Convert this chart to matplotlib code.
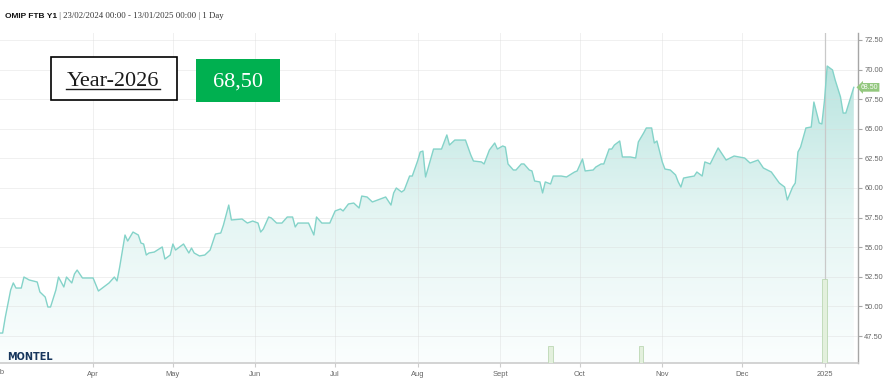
import numpy as np
import pandas as pd
import matplotlib
matplotlib.use('Agg')
import matplotlib.pyplot as plt
import matplotlib.dates as mdates
from matplotlib.patches import Rectangle, PathPatch
from matplotlib.path import Path
from matplotlib.colors import LinearSegmentedColormap
from matplotlib.lines import Line2D

# OMIP FTB Y1 daily settlement (EUR/MWh)
dates = [
    '2024-02-26', '2024-02-27', '2024-02-28', '2024-03-01', '2024-03-02', '2024-03-03',
    '2024-03-05', '2024-03-06', '2024-03-08', '2024-03-11', '2024-03-12', '2024-03-14',
    '2024-03-15', '2024-03-16', '2024-03-18', '2024-03-19', '2024-03-21', '2024-03-22',
    '2024-03-24', '2024-03-25', '2024-03-26', '2024-03-28', '2024-04-01', '2024-04-03',
    '2024-04-05', '2024-04-07', '2024-04-09', '2024-04-10', '2024-04-11', '2024-04-13',
    '2024-04-14', '2024-04-16', '2024-04-18', '2024-04-19', '2024-04-20', '2024-04-21',
    '2024-04-22', '2024-04-24', '2024-04-27', '2024-04-28', '2024-04-30', '2024-05-01',
    '2024-05-02', '2024-05-05', '2024-05-07', '2024-05-08', '2024-05-09', '2024-05-11',
    '2024-05-13', '2024-05-15', '2024-05-17', '2024-05-19', '2024-05-20', '2024-05-22',
    '2024-05-23', '2024-05-27', '2024-05-29', '2024-05-31', '2024-06-02', '2024-06-03',
    '2024-06-04', '2024-06-06', '2024-06-07', '2024-06-09', '2024-06-11', '2024-06-13',
    '2024-06-15', '2024-06-16', '2024-06-17', '2024-06-21', '2024-06-23', '2024-06-24',
    '2024-06-26', '2024-06-29', '2024-07-01', '2024-07-03', '2024-07-04', '2024-07-06',
    '2024-07-08', '2024-07-10', '2024-07-11', '2024-07-13', '2024-07-15', '2024-07-17',
    '2024-07-20', '2024-07-22', '2024-07-23', '2024-07-24', '2024-07-26', '2024-07-27',
    '2024-07-29', '2024-07-30', '2024-08-01', '2024-08-02', '2024-08-03', '2024-08-04',
    '2024-08-07', '2024-08-10', '2024-08-12', '2024-08-13', '2024-08-15', '2024-08-19',
    '2024-08-21', '2024-08-22', '2024-08-25', '2024-08-26', '2024-08-28', '2024-08-30',
    '2024-08-31', '2024-09-02', '2024-09-03', '2024-09-04', '2024-09-06', '2024-09-07',
    '2024-09-09', '2024-09-10', '2024-09-12', '2024-09-13', '2024-09-14', '2024-09-16',
    '2024-09-17', '2024-09-18', '2024-09-20', '2024-09-21', '2024-09-24', '2024-09-26',
    '2024-09-29', '2024-09-30', '2024-10-02', '2024-10-03', '2024-10-06', '2024-10-07',
    '2024-10-09', '2024-10-10', '2024-10-12', '2024-10-13', '2024-10-14', '2024-10-16',
    '2024-10-17', '2024-10-20', '2024-10-22', '2024-10-23', '2024-10-25', '2024-10-26',
    '2024-10-28', '2024-10-29', '2024-10-30', '2024-11-01', '2024-11-02', '2024-11-04',
    '2024-11-06', '2024-11-07', '2024-11-08', '2024-11-09', '2024-11-11', '2024-11-13',
    '2024-11-14', '2024-11-16', '2024-11-17', '2024-11-19', '2024-11-22', '2024-11-25',
    '2024-11-28', '2024-12-02', '2024-12-04', '2024-12-07', '2024-12-09', '2024-12-12',
    '2024-12-15', '2024-12-17', '2024-12-18', '2024-12-20', '2024-12-21', '2024-12-22',
    '2024-12-23', '2024-12-25', '2024-12-27', '2024-12-28', '2024-12-30', '2024-12-31',
    '2025-01-01', '2025-01-02', '2025-01-04', '2025-01-05', '2025-01-07', '2025-01-08',
    '2025-01-09', '2025-01-12',
]
prices = [
    47.75, 47.75, 49.10, 51.38, 51.98, 51.55,
    51.55, 52.48, 52.23, 52.06, 51.22, 50.79,
    49.95, 49.95, 51.38, 52.48, 51.64, 52.48,
    51.98, 52.74, 53.07, 52.40, 52.40, 51.30,
    51.64, 51.98, 52.48, 52.15, 53.33, 56.03,
    55.52, 56.28, 56.03, 55.35, 55.27, 54.34,
    54.51, 54.59, 55.02, 54.00, 54.34, 55.27,
    54.76, 55.27, 54.51, 54.93, 54.51, 54.26,
    54.34, 54.76, 56.11, 56.20, 56.87, 58.56,
    57.30, 57.38, 57.04, 57.21, 57.04, 56.28,
    56.54, 57.55, 57.47, 57.04, 57.04, 57.55,
    57.55, 56.71, 57.04, 57.04, 56.03, 57.55,
    57.04, 57.04, 58.06, 58.23, 58.06, 58.65,
    58.73, 58.31, 59.32, 59.24, 58.82, 58.99,
    59.24, 58.56, 59.58, 60.00, 59.66, 59.83,
    61.01, 61.01, 62.28, 63.04, 63.12, 60.93,
    63.29, 63.29, 64.48, 63.63, 64.05, 64.05,
    62.79, 62.28, 62.20, 62.03, 63.21, 63.80,
    63.29, 63.55, 63.46, 62.03, 61.52, 61.52,
    62.03, 62.03, 61.52, 61.44, 60.59, 60.51,
    59.58, 60.51, 60.34, 61.01, 61.01, 60.93,
    61.35, 61.44, 62.45, 61.44, 61.52, 61.77,
    62.03, 62.03, 63.29, 63.29, 63.63, 63.97,
    62.62, 62.62, 62.53, 63.89, 64.65, 65.07,
    65.07, 63.80, 63.97, 62.20, 61.60, 61.52,
    61.10, 60.51, 60.08, 60.84, 60.93, 61.01,
    61.35, 61.01, 62.20, 62.03, 63.38, 62.36,
    62.70, 62.53, 62.11, 62.36, 61.69, 61.35,
    60.42, 60.08, 58.99, 60.08, 60.42, 63.04,
    63.46, 65.07, 65.15, 67.26, 65.49, 65.41,
    67.43, 70.30, 69.97, 69.12, 67.69, 66.33,
    66.33, 68.50,
]

# traded volume bars at the bottom
vol_dates = ['2024-09-20', '2024-10-24', '2025-01-01']
volumes = [1, 1, 5]

month_ticks = ['2024-04-01', '2024-05-01', '2024-06-01', '2024-07-01', '2024-08-01',
               '2024-09-01', '2024-10-01', '2024-11-01', '2024-12-01', '2025-01-01']
month_labels = ['Apr', 'May', 'Jun', 'Jul', 'Aug', 'Sept', 'Oct', 'Nov', 'Dec', '2025']
y_ticks = [47.5, 50.0, 52.5, 55.0, 57.5, 60.0, 62.5, 65.0, 67.5, 70.0, 72.5]

title_bold = 'OMIP FTB Y1'
title_rest = '| 23/02/2024 00:00 - 13/01/2025 00:00 | 1 Day'
box_label = 'Year-2026'
last_label = '68,50'
last_price = 68.50

W, H = 885, 389


def fx(px):
    return px / W


def fy(py):
    return 1 - py / H


fig = plt.figure(figsize=(W / 100, H / 100), dpi=100)
ax = fig.add_axes([0, fy(363), fx(858), (363 - 33) / H])

x = mdates.date2num(pd.to_datetime(dates))
y = np.array(prices)
y_min, y_max = 45.22, 73.09
x_min = mdates.date2num(pd.Timestamp('2024-02-26'))
x_max = mdates.date2num(pd.Timestamp('2025-01-13 14:00'))

# volume on its own hidden scale (twinx first: it moves the main ticks to the left)
ax2 = ax.twinx()
ax2.bar(mdates.date2num(pd.to_datetime(vol_dates)), volumes, width=1.6,
        color='#e3f0dd', edgecolor='#bcd8b4', lw=0.6)
ax2.set_ylim(0, 19.7)
ax2.set_xlim(x_min, x_max)
ax2.set_axis_off()

# gradient area under the line
verts = [(x[0], y_min)] + list(zip(x, y)) + [(x[-1], y_min), (x[0], y_min)]
area = PathPatch(Path(verts, closed=True), facecolor='none', edgecolor='none')
ax.add_patch(area)
cmap = LinearSegmentedColormap.from_list('area', ['#fbfefe', '#e4f5f3', '#b8e4df'])
grad = np.linspace(1, 0, 256).reshape(-1, 1)
im = ax.imshow(grad, extent=[x[0], x[-1], y_min, 70.5], aspect='auto', cmap=cmap,
               origin='upper', zorder=1)
im.set_clip_path(area)

ax.plot(x, y, color='#84d3c9', lw=1.0, zorder=3)

# year boundary line
ax.axvline(mdates.date2num(pd.Timestamp('2025-01-01')), color='#c9c9c9', lw=0.9, zorder=2.6)

ax.set_xlim(x_min, x_max)
ax.set_ylim(y_min, y_max)

ax.grid(True, color='#d9d9d9', alpha=0.4, lw=0.7)
ax.set_axisbelow(False)
for g in ax.get_xgridlines() + ax.get_ygridlines():
    g.set_zorder(2.5)

ax.yaxis.tick_right()
ax.yaxis.set_label_position('right')
ax.set_yticks(y_ticks)
ax.set_yticklabels([f'{v:.2f}' for v in y_ticks])
ax.set_xticks(mdates.date2num(pd.to_datetime(month_ticks)))
ax.set_xticklabels(month_labels)
ax.tick_params(axis='y', which='both', left=False, labelleft=False, right=True,
               labelright=True, labelsize=5.4, labelcolor='#666666', length=3, width=0.8,
               color='#a6a6a6', pad=1.5)
ax.tick_params(axis='x', labelsize=5.4, labelcolor='#666666', length=3, width=0.8,
               color='#cccccc', pad=2.5)
for lab in ax.get_xticklabels() + ax.get_yticklabels():
    lab.set_family('Liberation Sans')

for side in ['top', 'left']:
    ax.spines[side].set_visible(False)
ax.spines['right'].set_color('#a6a6a6')
ax.spines['right'].set_linewidth(1.0)
ax.spines['bottom'].set_color('#cccccc')
ax.spines['bottom'].set_linewidth(1.2)

# last price tag on the axis
ax.annotate(f'{last_price:.2f}', xy=(1, last_price), xycoords=('axes fraction', 'data'),
            xytext=(8.5, 0), textcoords='offset points', ha='center', va='center',
            fontsize=5.0, color='white', family='Liberation Sans', annotation_clip=False,
            zorder=10, bbox=dict(boxstyle='larrow,pad=0.12', fc='#93c87e', ec='none'))

# header
t1 = fig.text(fx(5), fy(18), title_bold, fontsize=6, weight='bold',
              family='Liberation Sans', va='baseline', color='#111111')
ax.annotate(' ' + title_rest, xy=(1, 0), xycoords=t1, va='bottom', ha='left',
            fontsize=6.3, family='Liberation Serif', color='#333333',
            annotation_clip=False)

# cut-off first month label at the left edge
fig.text(fx(-2), fy(372), 'Feb', ha='center', va='center', fontsize=5.4,
         color='#666666', family='Liberation Sans')

# logo
fig.text(fx(7), fy(357), 'MONTEL', fontsize=7, weight='heavy', color='#17365d',
         va='center', family='DejaVu Sans')

# boxes
fig.add_artist(Rectangle((fx(51), fy(100)), (177 - 51) / W, (100 - 57) / H,
                         transform=fig.transFigure, facecolor='white',
                         edgecolor='black', lw=1.2))
fig.text(fx(113), fy(86), box_label, ha='center', va='baseline', fontsize=16,
         family='Liberation Serif', color='#1a1a1a')
fig.add_artist(Line2D([fx(66), fx(160)], [fy(89), fy(89)], transform=fig.transFigure,
                      color='#1a1a1a', lw=1.0))

fig.add_artist(Rectangle((fx(196), fy(101.5)), 84 / W, 42.5 / H,
                         transform=fig.transFigure, facecolor='#00b050',
                         edgecolor='none'))
fig.text(fx(238), fy(87), last_label, ha='center', va='baseline', fontsize=16,
         family='Liberation Serif', color='white')

fig.savefig('out.png', dpi=100)
